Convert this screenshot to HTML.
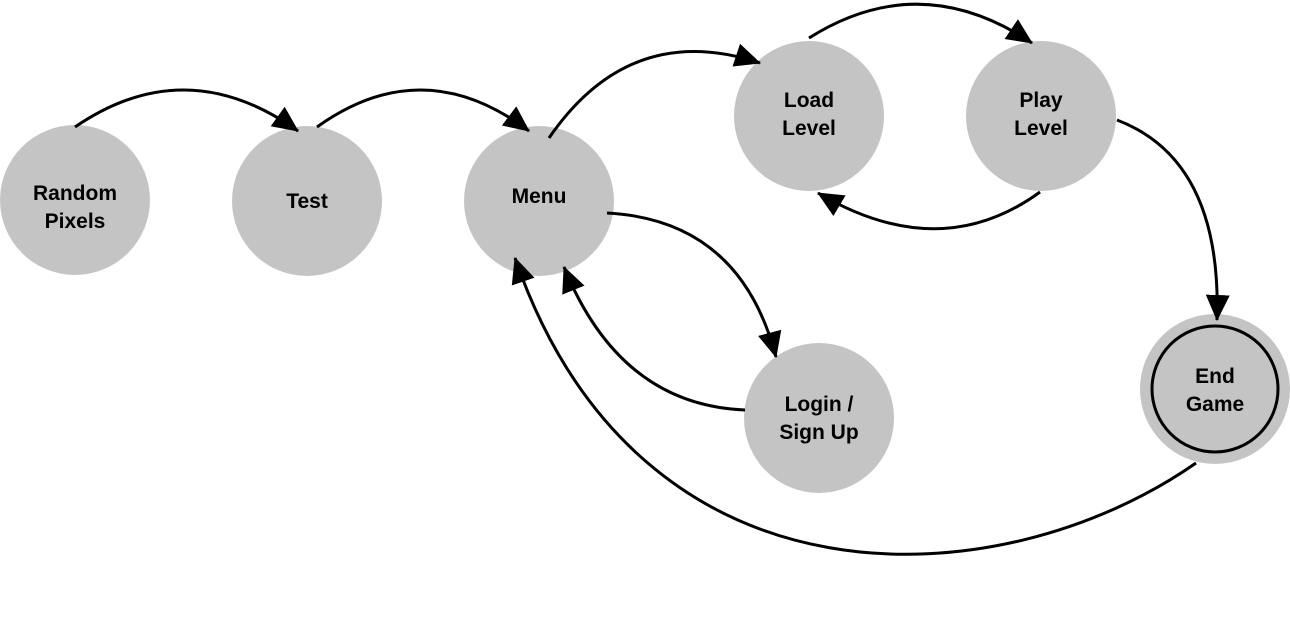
<!DOCTYPE html>
<html><head><meta charset="utf-8"><style>
html,body{margin:0;padding:0;background:#fff;width:1290px;height:629px;overflow:hidden}
text{font-family:"Liberation Sans",Arial,sans-serif;font-weight:bold;font-size:21px;fill:#000;text-anchor:middle}
</style></head><body>
<svg width="1290" height="629" viewBox="0 0 1290 629" xmlns="http://www.w3.org/2000/svg">
<defs>
<marker id="a" markerWidth="26" markerHeight="24" refX="25" refY="12" orient="auto" markerUnits="userSpaceOnUse">
<path d="M0,0 L26,12 L0,24 Z" fill="#000"/></marker>
</defs>
<g fill="#c4c4c4">
<circle cx="75" cy="200" r="75"/>
<circle cx="307" cy="201" r="75"/>
<circle cx="539" cy="201" r="75"/>
<circle cx="809" cy="116" r="75"/>
<circle cx="1041" cy="116" r="75"/>
<circle cx="819" cy="418" r="75"/>
<circle cx="1215" cy="389" r="75"/>
</g>
<circle cx="1215" cy="389" r="63" fill="#c4c4c4" stroke="#000" stroke-width="3"/>
<g fill="none" stroke="#000" stroke-width="3">
<path d="M75,127 Q186,51 298,131" marker-end="url(#a)"/>
<path d="M317,127 Q423,51 529,131" marker-end="url(#a)"/>
<path d="M549,138 Q630,20 760,63" marker-end="url(#a)"/>
<path d="M809,38 Q920,-32 1032,43" marker-end="url(#a)"/>
<path d="M1040,192 Q940,265 818,193" marker-end="url(#a)"/>
<path d="M1117,120 Q1222,160 1217,320" marker-end="url(#a)"/>
<path d="M607,213 Q740,220 776,357" marker-end="url(#a)"/>
<path d="M745,410 Q620,405 564,267" marker-end="url(#a)"/>
<path d="M1196,463 C1000,600 640,620 515,258" marker-end="url(#a)"/>
</g>
<text x="75" y="200">Random</text><text x="75" y="228">Pixels</text>
<text x="307" y="208">Test</text>
<text x="539" y="203">Menu</text>
<text x="809" y="107">Load</text><text x="809" y="135">Level</text>
<text x="1041" y="107">Play</text><text x="1041" y="135">Level</text>
<text x="819" y="411">Login /</text><text x="819" y="439">Sign Up</text>
<text x="1215" y="383">End</text><text x="1215" y="411">Game</text>
</svg>
</body></html>
